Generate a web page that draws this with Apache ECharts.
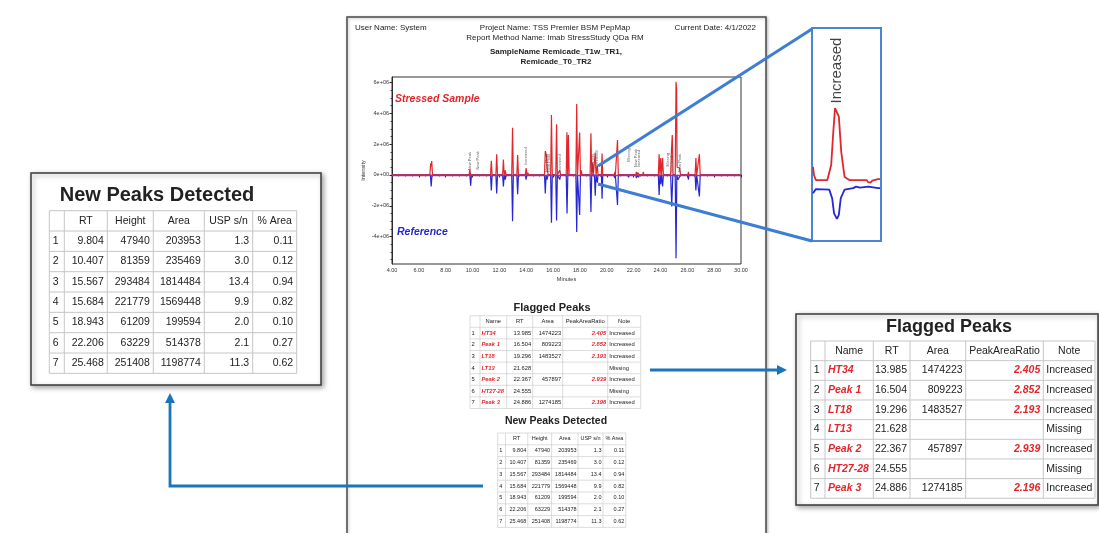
<!DOCTYPE html>
<html><head><meta charset="utf-8">
<script src="https://cdn.jsdelivr.net/npm/echarts@6/dist/echarts.min.js"></script>
<style>html,body{margin:0;padding:0;background:#fff}#c{width:1099px;height:533px}</style>
</head><body><div id="c"></div>
<script>
const FONT = '"Liberation Sans", Arial, sans-serif';

// ---- Chromatogram traces (minutes, intensity in units of 1e6) ----
const redTrace = [
  [4.00,0],[4.82,0],[4.84,0.05],[4.86,0],[5.98,0],[6.00,0.05],[6.02,0],
  [6.52,0],[6.56,0.12],[6.60,0],[6.82,0],[6.88,0.75],[6.92,0.55],[6.96,0.9],[7.02,0],
  [8.18,0],[8.22,0.12],[8.26,0],
  [9.74,0],[9.80,0.35],[9.86,0],[9.92,0.1],[9.96,0],
  [10.36,0],[10.41,0.12],[10.46,0],[10.80,0],[10.83,0.05],[10.86,0],
  [11.34,0],[11.40,0.92],[11.46,0],
  [11.74,0],[11.80,1.35],[11.86,0],
  [12.24,0],[12.30,1.0],[12.36,0],[12.44,0.3],[12.50,0],
  [12.92,0],[12.98,3.07],[13.04,0],
  [13.30,0],[13.36,1.3],[13.42,0],
  [13.93,0],[13.99,0.45],[14.05,0],[14.12,0.15],[14.18,0],
  [15.36,0],[15.42,1.55],[15.50,1.3],[15.57,0.3],[15.64,0],
  [15.82,0],[15.88,3.9],[15.94,0],
  [16.20,0],[16.26,3.3],[16.32,0],[16.46,0],[16.50,0.3],[16.56,0],
  [16.98,0],[17.03,2.77],[17.09,0],[17.14,2.6],[17.20,0],
  [17.70,0],[17.76,4.6],[17.82,0],
  [17.92,0],[17.98,2.75],[18.04,0],[18.10,0.3],[18.16,0],
  [18.76,0],[18.82,2.7],[18.88,0],[18.94,0.8],[19.00,0],
  [19.08,0],[19.14,1.45],[19.20,0],
  [19.25,0],[19.30,0.6],[19.35,0],
  [19.60,0],[19.65,1.4],[19.70,0],
  [20.56,0],[20.60,0.2],[20.64,0],
  [20.74,0],[20.80,2.27],[20.86,0],
  [21.60,0],[21.63,0.08],[21.66,0],
  [22.16,0],[22.21,0.2],[22.26,0],[22.32,0.15],[22.37,0.2],[22.42,0],
  [22.68,0],[22.72,0.2],[22.76,0],
  [23.84,0],[23.90,1.35],[23.96,0],[24.02,1.1],[24.08,0],[24.16,1.1],[24.22,0],
  [24.76,0],[24.82,1.6],[24.88,2.6],[24.94,0],
  [25.10,0],[25.16,6.05],[25.20,5.6],[25.24,0.5],[25.32,0.55],[25.42,0.45],[25.50,0],
  [26.04,0],[26.08,0.2],[26.12,0],
  [26.58,0],[26.64,1.1],[26.70,0],[26.84,0],[26.90,1.35],[26.96,0],
  [27.48,0],[27.50,0.05],[27.52,0],[28.98,0],[29.00,0.05],[29.02,0],[30.00,0]
];
const blueTrace = [
  [4.00,0],[6.52,0],[6.56,-0.1],[6.60,0],
  [6.86,0],[6.92,-0.75],[6.98,0],
  [8.18,0],[8.22,-0.08],[8.26,0],
  [9.80,0],[9.86,-0.7],[9.92,0],
  [11.34,0],[11.40,-1.0],[11.46,0],
  [11.74,0],[11.80,-1.2],[11.86,0],
  [12.24,0],[12.30,-0.75],[12.36,0],[12.44,-0.3],[12.50,0],
  [12.92,0],[12.98,-3.0],[13.04,0],
  [13.30,0],[13.36,-1.25],[13.42,0],
  [13.93,0],[13.99,-0.3],[14.05,0],
  [15.36,0],[15.42,-1.2],[15.48,0],[15.55,-0.3],[15.62,0],
  [15.82,0],[15.88,-3.1],[15.94,0],
  [16.20,0],[16.26,-2.95],[16.32,0],[16.46,0],[16.50,-0.3],[16.56,0],
  [16.98,0],[17.04,-2.5],[17.10,0],
  [17.70,0],[17.76,-3.7],[17.82,0],
  [17.92,0],[17.98,-2.6],[18.04,0],
  [18.76,0],[18.82,-2.4],[18.88,0],
  [19.08,0],[19.14,-1.35],[19.20,0],
  [19.25,0],[19.30,-0.5],[19.35,0],
  [19.60,0],[19.65,-1.55],[19.70,0],
  [20.56,0],[20.60,-0.2],[20.64,0],
  [20.74,0],[20.80,-1.95],[20.86,0],
  [21.60,0],[21.63,-0.15],[21.66,0],
  [22.16,0],[22.21,-0.2],[22.26,0],[22.32,0],[22.37,-0.15],[22.42,0],
  [23.84,0],[23.90,-1.3],[23.96,0],[24.02,-0.6],[24.08,0],[24.16,-0.75],[24.22,0],
  [24.76,0],[24.84,-2.05],[24.92,0],
  [25.10,0],[25.16,-5.4],[25.22,0],[25.30,-0.3],[25.40,-0.2],[25.50,0],
  [26.04,0],[26.08,-0.3],[26.12,0],
  [26.58,0],[26.64,-1.0],[26.70,0],[26.84,0],[26.90,-1.4],[26.96,0],[30.00,0]
];
// peak annotations: [rt, value where label starts, text]
const annotations = [
  [9.804,0.3,'New Peak'],[10.407,0.35,'New Peak'],[13.985,0.65,'Increased'],
  [15.567,0.2,'New Peak'],[15.684,0.2,'New Peak'],[16.504,0.2,'Increased'],
  [18.943,0.2,'New Peak'],[19.296,0.45,'Increased'],[21.628,0.85,'Missing'],
  [22.206,0.5,'New Peak'],[22.367,0.5,'Increased'],[24.555,0.55,'Missing'],
  [24.886,0.1,'Increased'],[25.468,0.2,'New Peak']
];
const yTickValues = [-4,-2,0,2,4,6];
const yMinorValues = [-5.5,-5,-4.5,-3.5,-3,-2.5,-1.5,-1,-0.5,0.5,1,1.5,2.5,3,3.5,4.5,5,5.5];

// ---- Inset (zoom of LT18 peak) ----
const insetRed = [[19.00,0.26],[19.01,0.10],[19.03,0],[19.15,0],[19.19,0.30],[19.21,0.90],[19.23,1.43],
  [19.245,1.45],[19.27,1.26],[19.295,0.56],[19.33,0.06],[19.38,0],[19.56,0],[19.575,-0.04],[19.59,-0.02],
  [19.60,-0.05],[19.62,-0.01],[19.68,0.02],[19.70,0.02]];
const insetBlue = [[19.00,-0.1],[19.03,-0.02],[19.17,-0.03],[19.20,-0.2],[19.22,-0.5],[19.25,-0.61],
  [19.27,-0.53],[19.29,-0.2],[19.33,-0.03],[19.42,0],[19.45,0.03],[19.49,0.01],[19.58,0.03],[19.68,0],[19.70,0]];
const insetLabel = [[19.245,1.52,'Increased']];

// ---- Flagged Peaks table ----
const flaggedHeader = ['','Name','RT','Area','PeakAreaRatio','Note'];
const flaggedNames = ['HT34','Peak 1','LT18','LT13','Peak 2','HT27-28','Peak 3'];
const flaggedRT = [13.985,16.504,19.296,21.628,22.367,24.555,24.886];
const flaggedArea = [1474223,809223,1483527,null,457897,null,1274185];
const flaggedRatio = [2.405,2.852,2.193,null,2.939,null,2.196];
const flaggedNote = ['Increased','Increased','Increased','Missing','Increased','Missing','Increased'];

// ---- New Peaks Detected table ----
const newHeader = ['','RT','Height','Area','USP s/n','% Area'];
const newRT = [9.804,10.407,15.567,15.684,18.943,22.206,25.468];
const newHeight = [47940,81359,293484,221779,61209,63229,251408];
const newArea = [203953,235469,1814484,1569448,199594,514378,1198774];
const newUSP = [1.3,3.0,13.4,9.9,2.0,2.1,11.3];
const newPctArea = [0.11,0.12,0.94,0.82,0.10,0.27,0.62];

// ---------------------------------------------------------------
const RED = '#e3262b', BLUE = '#2626d6', ARROW = '#1b75bb', LINK = '#3d7dd3';

function fmt(v, d) { return v == null ? '' : (d == null ? String(v) : v.toFixed(d)); }

const flaggedRows = flaggedNames.map((n, i) => [String(i + 1), n, fmt(flaggedRT[i], 3), fmt(flaggedArea[i]), fmt(flaggedRatio[i], 3), flaggedNote[i]]);
const newRows = newRT.map((r, i) => [String(i + 1), fmt(r, 3), fmt(newHeight[i]), fmt(newArea[i]), fmt(newUSP[i], 1), fmt(newPctArea[i], 2)]);

const flaggedStyles = [
  {align:'left'}, {align:'left', color:RED, bold:true, italic:true}, {align:'right'},
  {align:'right'}, {align:'right', color:RED, bold:true, italic:true}, {align:'left'}
];
const newStyles = [{align:'left'},{align:'right'},{align:'right'},{align:'right'},{align:'right'},{align:'right'}];

function buildTable(cfg) {
  const els = [];
  const { cols, top, rowH, header, rows, styles, fs, lw, pad } = cfg;
  const n = rows.length + 1;
  const left = cols[0], right = cols[cols.length - 1], bottom = top + n * rowH;
  for (let i = 0; i <= n; i++) {
    els.push({ type:'line', z:5, shape:{ x1:left, y1:top + i * rowH, x2:right, y2:top + i * rowH }, style:{ stroke:'#c6c6c6', lineWidth:lw } });
  }
  for (let j = 0; j < cols.length; j++) {
    els.push({ type:'line', z:5, shape:{ x1:cols[j], y1:top, x2:cols[j], y2:bottom }, style:{ stroke:'#c6c6c6', lineWidth:lw } });
  }
  for (let j = 0; j < header.length; j++) {
    els.push({ type:'text', z:6, x:(cols[j] + cols[j + 1]) / 2, y:top + rowH / 2,
      style:{ text:header[j], fontSize:fs, fontFamily:FONT, fill:'#222', align:'center', verticalAlign:'middle' } });
  }
  rows.forEach((row, r) => {
    row.forEach((cell, j) => {
      const st = styles[j];
      const x = st.align === 'left' ? cols[j] + pad : cols[j + 1] - pad;
      els.push({ type:'text', z:6, x:x, y:top + (r + 1.5) * rowH,
        style:{ text:cell, fontSize:fs, fontFamily:FONT, fill:st.color || '#222', align:st.align, verticalAlign:'middle',
          fontWeight:st.bold ? 'bold' : 'normal', fontStyle:st.italic ? 'italic' : 'normal' } });
    });
  });
  return els;
}

function txt(x, y, text, fs, opts) {
  opts = opts || {};
  return { type:'text', z:6, x:x, y:y, style:{ text:text, fontSize:fs, fontFamily:FONT, fill:opts.fill || '#222',
    align:opts.align || 'left', verticalAlign:'middle', fontWeight:opts.bold ? 'bold' : 'normal', fontStyle:opts.italic ? 'italic' : 'normal' } };
}

const graphics = [];
// report page
graphics.push({ type:'rect', z:0, shape:{ x:347, y:17, width:419, height:560 },
  style:{ fill:'#fff', stroke:'#4a4a4a', lineWidth:1.5, shadowBlur:3, shadowColor:'rgba(0,0,0,0.25)', shadowOffsetX:1, shadowOffsetY:1 } });
// header texts
graphics.push(txt(355, 28, 'User Name: System', 8));
graphics.push(txt(555, 28, 'Project Name: TSS Premier BSM PepMap', 8, { align:'center' }));
graphics.push(txt(555, 37.5, 'Report Method Name: Imab StressStudy QDa RM', 8, { align:'center' }));
graphics.push(txt(756, 28, 'Current Date: 4/1/2022', 8, { align:'right' }));
graphics.push(txt(556, 52, 'SampleName Remicade_T1w_TR1,', 8, { align:'center', bold:true }));
graphics.push(txt(556, 62, 'Remicade_T0_TR2', 8, { align:'center', bold:true }));
graphics.push(txt(395, 99, 'Stressed Sample', 10.5, { fill:RED, bold:true, italic:true }));
graphics.push(txt(397, 232, 'Reference', 10.5, { fill:BLUE, bold:true, italic:true }));
// small tables on page
graphics.push(txt(552, 308, 'Flagged Peaks', 11, { align:'center', bold:true }));
graphics.push(...buildTable({ cols:[470,480,506.7,532.7,562.7,607.7,640.7], top:315.7, rowH:11.6, header:flaggedHeader,
  rows:flaggedRows, styles:flaggedStyles, fs:5.8, lw:0.6, pad:1.5 }));
graphics.push(txt(556, 421, 'New Peaks Detected', 10.5, { align:'center', bold:true }));
graphics.push(...buildTable({ cols:[497.7,505.5,527.8,551.6,578,603,625.8], top:433, rowH:11.8, header:newHeader,
  rows:newRows, styles:newStyles, fs:5.5, lw:0.6, pad:1.5 }));
// left callout box
graphics.push({ type:'rect', z:1, shape:{ x:31, y:173, width:290, height:212 },
  style:{ fill:'#fff', stroke:'#3a3a3a', lineWidth:1.5, shadowBlur:5, shadowColor:'rgba(0,0,0,0.35)', shadowOffsetX:2, shadowOffsetY:2 } });
graphics.push(txt(157, 195, 'New Peaks Detected', 20, { align:'center', bold:true }));
graphics.push(...buildTable({ cols:[49.3,64.3,107.3,153.3,204.3,252.7,296.7], top:210.7, rowH:20.33, header:newHeader,
  rows:newRows, styles:newStyles, fs:10.5, lw:1, pad:3.5 }));
// right callout box
graphics.push({ type:'rect', z:1, shape:{ x:796, y:314, width:302, height:191 },
  style:{ fill:'#fff', stroke:'#3a3a3a', lineWidth:1.5, shadowBlur:5, shadowColor:'rgba(0,0,0,0.35)', shadowOffsetX:2, shadowOffsetY:2 } });
graphics.push(txt(949, 327, 'Flagged Peaks', 18, { align:'center', bold:true }));
graphics.push(...buildTable({ cols:[810.7,825,873.3,910,965.7,1043.3,1095], top:341, rowH:19.66, header:flaggedHeader,
  rows:flaggedRows, styles:flaggedStyles, fs:10.5, lw:1, pad:3 }));
// arrows
graphics.push({ type:'polyline', z:20, shape:{ points:[[483,486],[170,486],[170,402]] }, style:{ stroke:ARROW, lineWidth:2.8, fill:null } });
graphics.push({ type:'polygon', z:20, shape:{ points:[[165,403],[175,403],[170,393]] }, style:{ fill:ARROW } });
graphics.push({ type:'line', z:20, shape:{ x1:650, y1:370, x2:778, y2:370 }, style:{ stroke:ARROW, lineWidth:2.8 } });
graphics.push({ type:'polygon', z:20, shape:{ points:[[777,365],[777,375],[787,370]] }, style:{ fill:ARROW } });
// inset box and connectors
graphics.push({ type:'rect', z:1, shape:{ x:812, y:28, width:69, height:213 }, style:{ fill:'#fff', stroke:'#4a86d5', lineWidth:2 } });
graphics.push({ type:'line', z:30, shape:{ x1:598, y1:166, x2:812, y2:29 }, style:{ stroke:LINK, lineWidth:3 } });
graphics.push({ type:'line', z:30, shape:{ x1:598, y1:184, x2:812, y2:241 }, style:{ stroke:LINK, lineWidth:3 } });

const axisTxt = { fontSize:5.5, fontFamily:FONT, color:'#333' };

const option = {
  animation:false,
  backgroundColor:'#fff',
  graphic:{ elements:graphics },
  grid:[
    { left:392, top:77, width:349, height:187, show:true, borderColor:'#333', borderWidth:1, backgroundColor:'transparent', z:3 },
    { left:813, top:29, width:67, height:211, show:false, z:3 }
  ],
  xAxis:[
    { type:'value', gridIndex:0, min:4, max:30, interval:2,
      axisLine:{ lineStyle:{ color:'#222', width:1 } },
      axisTick:{ length:2.5, lineStyle:{ color:'#222' } },
      minorTick:{ show:true, splitNumber:4, length:1.5, lineStyle:{ color:'#444' } },
      splitLine:{ show:false },
      axisLabel:Object.assign({ margin:3, formatter:v => v.toFixed(2) }, axisTxt),
      name:'Minutes', nameLocation:'middle', nameGap:12, nameTextStyle:axisTxt },
    { type:'value', gridIndex:1, min:19.0, max:19.7, show:false }
  ],
  yAxis:[
    { type:'value', gridIndex:0, min:-5.78, max:6.36,
      axisLine:{ show:true, lineStyle:{ color:'#222', width:1 } },
      axisTick:{ show:true, length:2.5, customValues:yTickValues, lineStyle:{ color:'#222' } },
      splitLine:{ show:false },
      axisLabel:Object.assign({ margin:3, customValues:yTickValues,
        formatter:v => v === 0 ? '0e+00' : (v < 0 ? '-' : '') + Math.abs(v) + 'e+06' }, axisTxt),
      name:'Intensity', nameLocation:'middle', nameGap:26, nameRotate:90, nameTextStyle:axisTxt },
    { type:'value', gridIndex:0, min:-5.78, max:6.36, position:'left',
      axisLine:{ show:false }, axisTick:{ show:true, length:1.5, customValues:yMinorValues, lineStyle:{ color:'#444' } },
      axisLabel:{ show:false }, splitLine:{ show:false } },
    { type:'value', gridIndex:1, min:-1.19, max:3.0, show:false },
    { type:'value', gridIndex:1, min:-1.03, max:3.16, show:false }
  ],
  series:[
    { type:'line', name:'Reference', xAxisIndex:0, yAxisIndex:0, data:blueTrace, showSymbol:false, z:3,
      lineStyle:{ color:BLUE, width:1.2 } },
    { type:'line', name:'Stressed Sample', xAxisIndex:0, yAxisIndex:0, data:redTrace, showSymbol:false, z:4,
      lineStyle:{ color:RED, width:1.2 },
      markLine:{ silent:true, symbol:'none', label:{ show:false }, lineStyle:{ color:'#7d3fa0', width:1.3, type:'solid' }, data:[{ yAxis:0 }] } },
    { type:'scatter', xAxisIndex:0, yAxisIndex:0, data:annotations, symbolSize:0, z:5, clip:false,
      label:{ show:true, formatter:p => p.data[2], rotate:90, position:[0,0], align:'left', verticalAlign:'middle',
        fontSize:4, fontFamily:FONT, color:'#444' } },
    { type:'line', xAxisIndex:1, yAxisIndex:3, data:insetBlue, showSymbol:false, z:5, lineStyle:{ color:BLUE, width:1.8 } },
    { type:'line', xAxisIndex:1, yAxisIndex:2, data:insetRed, showSymbol:false, z:5, lineStyle:{ color:RED, width:1.8 } },
    { type:'scatter', xAxisIndex:1, yAxisIndex:2, data:insetLabel, symbolSize:0, z:6, clip:false,
      label:{ show:true, formatter:p => p.data[2], rotate:90, position:[0,0], align:'left', verticalAlign:'middle',
        fontSize:15, fontFamily:FONT, color:'#111' } }
  ]
};

const chart = echarts.init(document.getElementById('c'), null, { renderer:'canvas' });
chart.setOption(option);
</script></body></html>
